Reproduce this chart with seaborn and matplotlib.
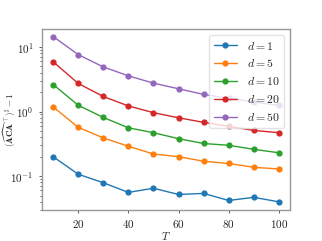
import numpy as np
import pandas as pd
import matplotlib
matplotlib.use("Agg")
import matplotlib.pyplot as plt
import seaborn as sns

T = [10, 20, 30, 40, 50, 60, 70, 80, 90, 100]
d_labels = ["$d = 1$", "$d = 5$", "$d = 10$", "$d = 20$", "$d = 50$"]
d1 = [0.20, 0.107, 0.079, 0.056, 0.065, 0.052, 0.054, 0.042, 0.047, 0.040]
d5 = [1.18, 0.57, 0.39, 0.29, 0.22, 0.20, 0.17, 0.157, 0.137, 0.129]
d10 = [2.62, 1.25, 0.81, 0.56, 0.47, 0.38, 0.32, 0.30, 0.26, 0.23]
d20 = [5.9, 2.72, 1.71, 1.22, 0.96, 0.80, 0.68, 0.59, 0.51, 0.47]
d50 = [14.5, 7.6, 4.9, 3.57, 2.75, 2.25, 1.84, 1.61, 1.41, 1.24]
series = [d1, d5, d10, d20, d50]

rows = []
for lab, vals in zip(d_labels, series):
    for t, v in zip(T, vals):
        rows.append({"T": t, "val": v, "d": lab})
df = pd.DataFrame(rows)

sns.set_style("ticks")
plt.rcParams["mathtext.fontset"] = "cm"
plt.rcParams["font.family"] = ["cmr10", "DejaVu Serif"]
plt.rcParams["axes.formatter.use_mathtext"] = True
plt.rcParams["axes.unicode_minus"] = False

fig = plt.figure(figsize=(3.22, 2.41), dpi=100)
ax = fig.add_axes([0.130, 0.129, 0.771, 0.751])
palette = ["#1f77b4", "#ff7f0e", "#2ca02c", "#d62728", "#9467bd"]
sns.lineplot(data=df, x="T", y="val", hue="d", palette=palette, marker="o",
             markersize=4.5, markeredgewidth=0, linewidth=1.0, ax=ax)
ax.set_yscale("log")
ax.set_ylim(0.03, 19)
ax.set_xlim(5.5, 104.5)
ax.set_xticks([20, 40, 60, 80, 100])
ax.tick_params(labelsize=8, length=2.5, width=0.6, colors="#444444", labelcolor="#222222")
ax.tick_params(which="minor", length=1.5, width=0.5)
for s in ax.spines.values():
    s.set_color("#999999")
    s.set_linewidth(1.0)
ax.set_xlabel("$T$", fontsize=8, labelpad=0)
ax.set_ylabel(r"$(\widehat{\mathbf{ACA}}^{\top})^{\sharp}-1$", fontsize=6.5)
ax.yaxis.set_label_coords(-0.098, 0.5)
leg = ax.legend(title=None, fontsize=8.5, loc="upper right", frameon=True,
                framealpha=0.8, borderpad=0.4, handlelength=2.0,
                labelspacing=0.5, handletextpad=0.8)
leg.get_frame().set_edgecolor("#dddddd")
fig.savefig("out.png", dpi=100)
